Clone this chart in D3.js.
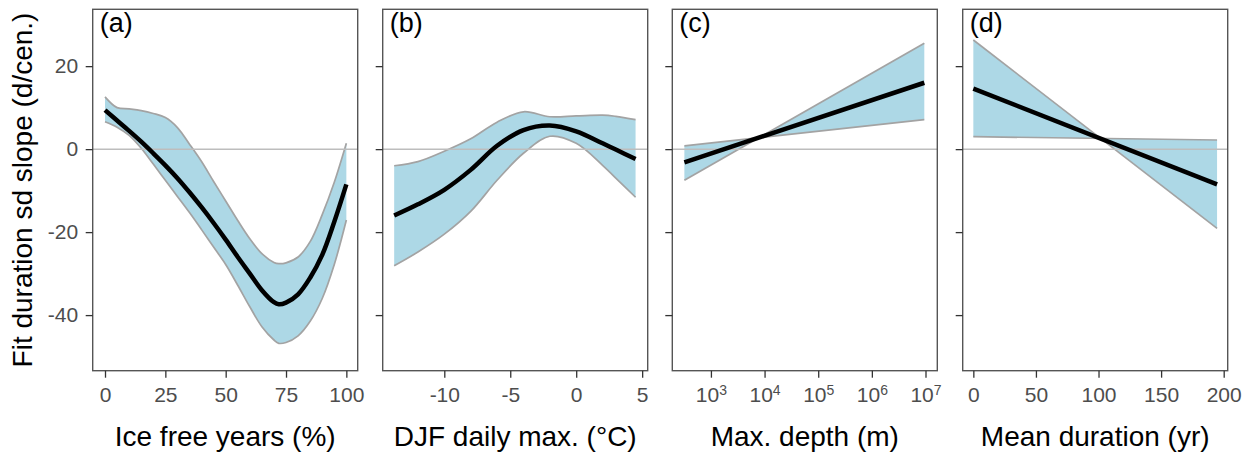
<!DOCTYPE html>
<html>
<head>
<meta charset="utf-8">
<script src="https://cdn.jsdelivr.net/npm/d3@7"></script>
<style>
  body { margin: 0; background: #fff; }
  text { font-family: "Liberation Sans", Arial, sans-serif; }
</style>
</head>
<body>
<div id="chart"></div>
<script>
const width = 1252, height = 455;

// (a) Ice free years (%)
const iceX   = [0, 5, 10, 15, 20, 25, 30, 35, 40, 45, 50, 55, 60, 65, 70, 72, 75, 80, 85, 90, 95, 100];
const iceFit = [9.4, 6.9, 4.4, 1.8, -1, -3.9, -7, -10.4, -14, -17.8, -21.8, -26, -30, -34, -36.9, -37.4, -37, -35, -31, -25.5, -17.5, -8.5];
const iceLo  = [6.6, 5.3, 3.3, 0.2, -3.6, -7.5, -11.4, -15.3, -19.4, -23.6, -27.8, -32.8, -38, -42.8, -46, -46.8, -46.6, -45, -41.5, -36, -27.8, -17.1];
const iceHi  = [12.6, 10, 9.7, 9.3, 8.6, 7.6, 5.2, 1.2, -3, -7.8, -12.5, -17.2, -21.6, -25.2, -27.3, -27.6, -27.4, -26, -22.3, -15.8, -8, 1.4];

// (b) DJF daily max. (°C)
const djfX   = [-13.8, -12, -10, -8, -6, -4, -2, 0, 2, 3, 4.5];
const djfFit = [-16, -13.3, -9.8, -5, 0.8, 4.6, 5.7, 4.3, 1.4, -0.1, -2.4];
const djfLo  = [-28.1, -24.8, -20.5, -15, -7.5, -1, 3.1, 1.4, -3.9, -7, -11.6];
const djfHi  = [-4, -3, -0.5, 2.5, 6.5, 9, 7.8, 8, 8.2, 7.9, 7.1];

// (c) Max. depth (m), log scale
const depthX   = [320, 9500000];
const depthFit = [-3.2, 16];
const depthLo  = [-7.5, 25.5];
const depthHi  = [0.8, 7.1];

// (d) Mean duration (yr)
const durX   = [0, 194.7];
const durFit = [14.6, -8.5];
const durLo  = [26.3, -19.1];
const durHi  = [3.0, 2.2];

const yTicks = [20, 0, -20, -40];
const panelLabels = ['(a)', '(b)', '(c)', '(d)'];
const xTitles = ['Ice free years (%)', 'DJF daily max. (\u00B0C)', 'Max. depth (m)', 'Mean duration (yr)'];

const svg = d3.select('#chart').append('svg')
    .attr('width', width)
    .attr('height', height);

const plotTop = 9.3, plotBottom = 370.7, panelW = 265;
const lefts = [92.7, 382.7, 672.3, 962.7];

const y = d3.scaleLinear().domain([-53.4, 33.7]).range([plotBottom, plotTop]);

const panels = [
    {x: d3.scaleLinear().domain([-5.1, 104.7]), xs: iceX, fit: iceFit, lo: iceLo, hi: iceHi, ticks: [0, 25, 50, 75, 100]},
    {x: d3.scaleLinear().domain([-14.67, 5.42]), xs: djfX, fit: djfFit, lo: djfLo, hi: djfHi, ticks: [-10, -5, 0, 5]},
    {x: d3.scaleLog().domain([Math.pow(10, 2.28), Math.pow(10, 7.22)]), xs: depthX, fit: depthFit, lo: depthLo, hi: depthHi, ticks: [1e3, 1e4, 1e5, 1e6, 1e7], log: true},
    {x: d3.scaleLinear().domain([-8.5, 203.2]), xs: durX, fit: durFit, lo: durLo, hi: durHi, ticks: [0, 50, 100, 150, 200]}
];

panels.forEach((p, i) => {
    p.x.range([0, panelW]);
    let rows = p.xs.map((v, j) => ({x: v, fit: p.fit[j], lo: p.lo[j], hi: p.hi[j]}));
    let g = svg.append('g').attr('transform', `translate(${lefts[i]},0)`);

    let area = d3.area()
        .x(d => p.x(d.x))
        .y0(d => y(d.lo))
        .y1(d => y(d.hi))
        .curve(d3.curveCatmullRom);
    g.append('path').datum(rows)
        .attr('d', area)
        .attr('fill', '#add8e6');

    ['lo', 'hi'].forEach(k => {
        g.append('path').datum(rows)
            .attr('d', d3.line().x(d => p.x(d.x)).y(d => y(d[k])).curve(d3.curveCatmullRom))
            .attr('fill', 'none')
            .attr('stroke', '#a3a3a3')
            .attr('stroke-width', 1.7);
    });

    g.append('line')
        .attr('x1', 0).attr('x2', panelW)
        .attr('y1', y(0)).attr('y2', y(0))
        .attr('stroke', '#bdbdbd')
        .attr('stroke-width', 1.5);

    g.append('path').datum(rows)
        .attr('d', d3.line().x(d => p.x(d.x)).y(d => y(d.fit)).curve(d3.curveCatmullRom))
        .attr('fill', 'none')
        .attr('stroke', '#000')
        .attr('stroke-width', 4.5)
        .attr('stroke-linecap', 'butt');

    g.append('rect')
        .attr('x', 0).attr('y', plotTop)
        .attr('width', panelW).attr('height', plotBottom - plotTop)
        .attr('fill', 'none')
        .attr('stroke', '#555')
        .attr('stroke-width', 1.4);

    // y axis
    let ya = g.append('g').call(d3.axisLeft(y).tickValues(yTicks).tickSize(7).tickPadding(7.5));
    ya.select('.domain').remove();
    ya.selectAll('.tick line').attr('stroke', '#333').attr('stroke-width', 1.3);
    ya.selectAll('.tick text')
        .attr('fill', '#4d4d4d')
        .style('font-size', '21px')
        .text(d => i === 0 ? d : '');

    // x axis
    let xa = g.append('g').attr('transform', `translate(0,${plotBottom})`)
        .call(d3.axisBottom(p.x).tickValues(p.ticks).tickSize(7).tickPadding(9).tickFormat(d => p.log ? '' : d));
    xa.select('.domain').remove();
    xa.selectAll('.tick line').attr('stroke', '#333').attr('stroke-width', 1.3);
    xa.selectAll('.tick text')
        .attr('fill', '#4d4d4d')
        .style('font-size', '21px');
    if (p.log) {
        xa.selectAll('.tick text').each(function(d) {
            let t = d3.select(this);
            t.append('tspan').text('10');
            t.append('tspan').attr('dy', '-0.45em').style('font-size', '14px').text(Math.round(Math.log10(d)));
        });
    }

    g.append('text')
        .attr('x', 7).attr('y', 32)
        .style('font-size', '27px')
        .attr('fill', '#000')
        .text(panelLabels[i]);

    g.append('text')
        .attr('x', panelW / 2).attr('y', 446)
        .attr('text-anchor', 'middle')
        .style('font-size', '28px')
        .attr('fill', '#000')
        .text(xTitles[i]);
});

svg.append('text')
    .attr('transform', `translate(32,${(plotTop + plotBottom) / 2}) rotate(-90)`)
    .attr('text-anchor', 'middle')
    .style('font-size', '28px')
    .attr('fill', '#000')
    .text('Fit duration sd slope (d/cen.)');
</script>
</body>
</html>
